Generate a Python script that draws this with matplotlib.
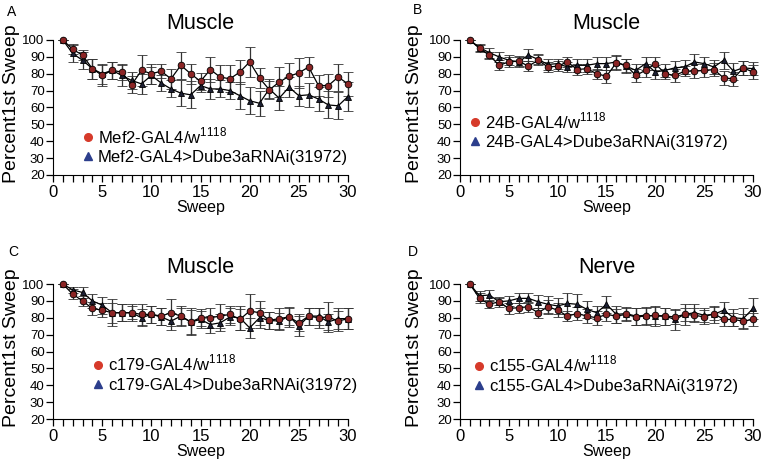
import numpy as np
import matplotlib
matplotlib.use("Agg")
import matplotlib.pyplot as plt
from matplotlib.lines import Line2D
from matplotlib.ticker import MultipleLocator

plt.rcParams['font.family'] = ['Liberation Sans', 'DejaVu Sans']
plt.rcParams['mathtext.fontset'] = 'custom'
plt.rcParams['mathtext.rm'] = 'Liberation Sans'

sweep = np.arange(1, 31)

# panel A - Mef2 (muscle)
a_ctrl = [100, 94.5, 91, 83, 79, 82, 81, 73.5, 82, 80, 81.5, 77, 85, 80, 75.5,
          82.5, 78, 77, 81, 87, 77.5, 70.5, 75, 78.5, 80.5, 84, 73, 73, 78, 74]
a_ctrl_err = [0, 3, 3, 6, 6, 5, 5, 5, 9, 6, 4, 6, 8, 6, 5,
              7.5, 7, 8, 7, 9, 6, 5, 9, 8, 9, 6, 6, 7, 8, 7]
a_rnai = [100, 92, 88, 83, 80, 82, 79, 76, 74, 79, 74.5, 71, 68.5, 67.5, 73,
          71, 71, 70, 67, 64, 62.5, 71, 65.5, 72, 67, 67.5, 65, 61.5, 61, 66.5]
a_rnai_err = [0, 5, 5, 6, 6, 5, 6, 5, 6, 5, 5, 5, 7.5, 8, 4,
              6, 5, 5, 8, 8, 7.5, 6, 7, 6, 6, 7, 7, 8, 8, 8.5]

# panel B - 24B (muscle)
b_ctrl = [100, 95, 91, 85, 87, 87.5, 84.5, 88, 84, 84.5, 87, 82.5, 83, 80, 78.5,
          86.5, 85, 79, 82, 86, 80, 79, 81.5, 81.5, 82, 82.5, 77.5, 77, 83.5, 81]
b_ctrl_err = [0, 2, 2, 3, 3, 3, 3, 3, 3, 3, 3, 3, 3, 3, 4,
              4, 4, 4, 4, 4, 3, 4, 3, 4, 4, 4, 4, 4, 4, 4]
b_rnai = [100, 95.5, 92.5, 90, 88, 87, 91, 88.5, 85.5, 86, 84, 85, 85, 86, 86,
          87, 84.5, 82, 86, 81, 82, 83.5, 84, 87, 86, 84, 88, 81.5, 83.5, 83]
b_rnai_err = [0, 2, 3, 3, 3, 3, 3.5, 3, 3, 3, 3, 4, 4, 4, 4,
              4, 4, 4, 4, 4, 4, 4, 4, 4.5, 4, 4, 5, 5, 4, 4]

# panel C - c179 (muscle)
c_ctrl = [100, 94, 90, 85.5, 84.5, 83, 83, 83, 82, 82, 81, 83, 81, 77.5, 80,
          80, 81, 82, 79, 84, 83, 78.5, 79.5, 80.5, 77, 81, 80, 80.5, 78, 79.5]
c_ctrl_err = [0, 3, 3, 4, 4, 6, 5, 4, 6, 5, 5, 8, 6, 7, 5,
              6, 7, 5, 6, 10, 7, 5, 6, 6, 5, 5, 6, 9, 6, 6]
c_rnai = [100, 96.5, 95, 90, 87.5, 83, 83, 83, 80, 82, 80.5, 78, 81, 77.5, 79,
          76, 77, 80.5, 80, 74, 80, 78.5, 78, 81, 75, 81, 81, 77.5, 79.5, 79.5]
c_rnai_err = [0, 2, 3, 4, 5, 8, 5, 5, 5, 5, 5, 5, 5, 8, 5,
              5, 5, 5, 7, 6, 6, 5, 5, 5, 6, 5, 5, 5, 6, 6]

# panel D - c155 (nerve)
d_ctrl = [100, 91.5, 88, 89.5, 85.5, 86, 86.5, 83, 86.5, 84.5, 81, 82.5, 81, 80, 82,
          81, 82, 80.5, 81, 81.5, 81, 80.5, 82, 81.5, 80.5, 82.5, 79, 79, 78, 79]
d_ctrl_err = [0, 3, 2, 2, 3, 3, 3, 3, 4, 4, 3, 4, 4, 4, 4,
              4, 4, 5, 5, 5, 5, 4, 4, 4, 4, 4, 4, 4, 4, 4]
d_rnai = [100, 93, 93.5, 89.5, 90, 91.5, 91.5, 89.5, 88, 87, 88.5, 88, 85, 83, 88,
          82, 82.5, 81, 81.5, 81, 81, 79, 82, 83, 81.5, 82, 84.5, 80, 79.5, 85.5]
d_rnai_err = [0, 3, 3, 3, 3, 3, 3, 4, 5, 5, 6, 6, 5, 4, 5,
              5, 4, 5, 5, 6, 5, 6, 6, 5, 4, 5, 5, 5, 6, 6.5]

panels = [
    ("A", "Muscle", "Mef2", a_ctrl, a_ctrl_err, a_rnai, a_rnai_err),
    ("B", "Muscle", "24B", b_ctrl, b_ctrl_err, b_rnai, b_rnai_err),
    ("C", "Muscle", "c179", c_ctrl, c_ctrl_err, c_rnai, c_rnai_err),
    ("D", "Nerve", "c155", d_ctrl, d_ctrl_err, d_rnai, d_rnai_err),
]

# axes rectangles (fig fraction) and legend anchors
rects = [(0.0693, 0.6237, 0.3856, 0.2903), (0.6013, 0.6237, 0.383, 0.2903),
         (0.0693, 0.0989, 0.3856, 0.2903), (0.6013, 0.0989, 0.383, 0.2903)]
leg_anchor = [(0.10, 0.219), (0.034, 0.33), (0.136, 0.341), (0.048, 0.333)]
ylab_x = [-0.112, -0.125, -0.112, -0.125]
letter_pos = [(12, 12), (418, 10), (13, 252), (413, 252)]

fig = plt.figure(figsize=(7.65, 4.65), dpi=100)

for i, (letter, title, driver, ctrl, ctrl_err, rnai, rnai_err) in enumerate(panels):
    ax = fig.add_axes(rects[i])

    # RNAi line (triangles)
    ax.errorbar(sweep, rnai, yerr=rnai_err, color='black', lw=0.9,
                ecolor='#333333', elinewidth=0.9, capsize=3.5, capthick=0.9,
                marker='^', ms=4.8, mfc='#1c1f33', mec='black', mew=0.6, clip_on=False)
    # control line (circles)
    ax.errorbar(sweep, ctrl, yerr=ctrl_err, color='black', lw=0.9,
                ecolor='#333333', elinewidth=0.9, capsize=3.5, capthick=0.9,
                marker='o', ms=4.8, mfc='#8b2525', mec='black', mew=0.6, clip_on=False)

    ax.set_xlim(0, 30)
    ax.set_ylim(20, 100)
    ax.xaxis.set_major_locator(MultipleLocator(5))
    ax.xaxis.set_minor_locator(MultipleLocator(1))
    ax.yaxis.set_major_locator(MultipleLocator(10))
    ax.spines['top'].set_visible(False)
    ax.spines['right'].set_visible(False)
    ax.tick_params(axis='both', which='both', direction='out', length=5, width=0.9)
    ax.tick_params(axis='x', labelsize=12, pad=2)
    ax.tick_params(axis='y', labelsize=9.5, pad=1)

    ax.set_xlabel("Sweep", fontsize=11.5, labelpad=0)
    ax.set_ylabel("Percent1st Sweep", fontsize=14)
    ax.yaxis.set_label_coords(ylab_x[i], 0.53)
    ax.set_title(title, fontsize=15.5, pad=8)

    handles = [
        Line2D([], [], ls='none', marker='o', ms=5.5, mfc='#d63a2a', mec='#d63a2a'),
        Line2D([], [], ls='none', marker='^', ms=5.5, mfc='#2c3e8c', mec='#2c3e8c'),
    ]
    labels = [driver + "-GAL4/w$^{\\mathrm{1118}}$",
              driver + "-GAL4>Dube3aRNAi(31972)"]
    ax.legend(handles, labels, loc='center left', bbox_to_anchor=leg_anchor[i],
              frameon=False, fontsize=12, handlelength=0.6, handletextpad=0.3,
              borderpad=0, borderaxespad=0, labelspacing=0.25)

    fig.text(letter_pos[i][0] / 765, 1 - letter_pos[i][1] / 465, letter,
             fontsize=10, ha='center', va='center')

fig.savefig("out.png", dpi=100)
